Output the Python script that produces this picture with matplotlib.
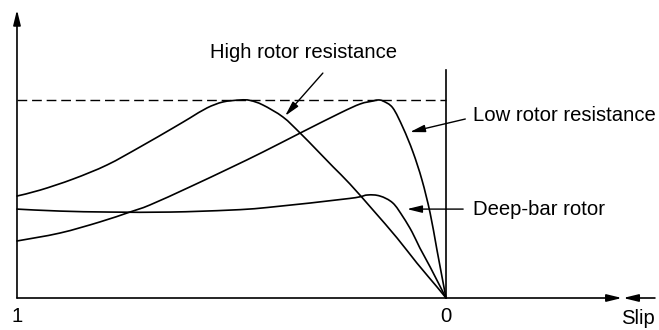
import matplotlib
matplotlib.use("Agg")
import matplotlib.pyplot as plt
import numpy as np
from matplotlib.path import Path
from matplotlib.patches import PathPatch

plt.rcParams['font.family'] = ['Liberation Sans', 'DejaVu Sans']

# Torque (fraction of maximum) vs slip
high_slip = [1.000, 0.946, 0.869, 0.790, 0.713, 0.636, 0.597, 0.557, 0.520, 0.480,
             0.457, 0.427, 0.380, 0.340, 0.301, 0.263, 0.224, 0.170, 0.114, 0.068,
             0.021, 0.0]
high_torque = [0.515, 0.545, 0.601, 0.672, 0.763, 0.859, 0.909, 0.960, 0.990, 1.000,
               0.998, 0.975, 0.914, 0.833, 0.747, 0.662, 0.576, 0.444, 0.303, 0.177,
               0.056, 0.0]

low_slip = [1.000, 0.900, 0.807, 0.737, 0.690, 0.597, 0.503, 0.427, 0.340, 0.247,
            0.200, 0.170, 0.159, 0.147, 0.124, 0.100, 0.077, 0.056, 0.037, 0.021, 0.0]
low_torque = [0.288, 0.328, 0.384, 0.434, 0.470, 0.561, 0.657, 0.737, 0.833, 0.934,
              0.980, 0.995, 1.000, 0.995, 0.960, 0.859, 0.737, 0.596, 0.429, 0.242, 0.0]

deep_slip = [1.000, 0.900, 0.783, 0.643, 0.503, 0.417, 0.224, 0.184, 0.154, 0.124,
             0.100, 0.079, 0.061, 0.037, 0.0]
deep_torque = [0.449, 0.439, 0.434, 0.434, 0.444, 0.457, 0.503, 0.520, 0.515, 0.480,
               0.409, 0.333, 0.253, 0.157, 0.0]

max_torque = 1.0
tick_labels = {1.0: "1", 0.0: "0"}


def smooth_path(xs, ys):
    """Catmull-Rom spline through the points, expressed as cubic Bezier path."""
    p = np.column_stack([xs, ys]).astype(float)
    n = len(p)
    verts = [p[0]]
    codes = [Path.MOVETO]
    for i in range(n - 1):
        p0 = p[i - 1] if i > 0 else p[i]
        p1 = p[i]
        p2 = p[i + 1]
        p3 = p[i + 2] if i + 2 < n else p[i + 1]
        c1 = p1 + (p2 - p0) / 6.0
        c2 = p2 - (p3 - p1) / 6.0
        verts += [c1, c2, p2]
        codes += [Path.CURVE4] * 3
    return Path(verts, codes)


fig = plt.figure(figsize=(6.59, 3.30), dpi=100)
ax = fig.add_axes([0, 0, 1, 1])
ax.set_xlim(1.0396, -0.4965)
ax.set_ylim(-0.1616, 1.505)
ax.axis('off')

lw = 1.2
for s, t in [(high_slip, high_torque), (low_slip, low_torque), (deep_slip, deep_torque)]:
    ax.add_patch(PathPatch(smooth_path(s, t), facecolor='none', edgecolor='black',
                           lw=lw, capstyle='round', joinstyle='round'))

# dashed max torque line
ax.plot([1.0, 0.0], [max_torque, max_torque], color='black', lw=1.0,
        dashes=(7, 3.5))

# vertical line at slip 0
ax.plot([0.0, 0.0], [0.0, 1.152], color='black', lw=lw)

# axes with arrows
arrow_head = '-|>,head_length=0.9,head_width=0.22'
ax.annotate('', xy=(1.0, 1.455), xytext=(1.0, 0.0),
            arrowprops=dict(arrowstyle=arrow_head, mutation_scale=10, lw=lw,
                            color='black', shrinkA=0, shrinkB=0))
ax.annotate('', xy=(-0.410, 0.0), xytext=(1.0, 0.0),
            arrowprops=dict(arrowstyle=arrow_head, mutation_scale=10, lw=lw,
                            color='black', shrinkA=0, shrinkB=0))
ax.annotate('', xy=(-0.413, 0.0), xytext=(-0.487, 0.0),
            arrowprops=dict(arrowstyle=arrow_head, mutation_scale=10, lw=lw,
                            color='black', shrinkA=0, shrinkB=0))

fs = 14.6
for s, lab in tick_labels.items():
    ax.text(s, -0.091, lab, ha='center', va='center', fontsize=fs)
ax.text(-0.448, -0.101, "Slip", ha='center', va='center', fontsize=fs)

ann = dict(arrowstyle=arrow_head, mutation_scale=10, lw=1.0, color='black',
           shrinkA=0, shrinkB=0)
ax.text(0.331, 1.242, "High rotor resistance", ha='center', va='center', fontsize=fs)
ax.annotate('', xy=(0.375, 0.92), xytext=(0.287, 1.136), arrowprops=ann)

ax.text(-0.063, 0.924, "Low rotor resistance", ha='left', va='center', fontsize=fs)
ax.annotate('', xy=(0.084, 0.838), xytext=(-0.045, 0.904), arrowprops=ann)

ax.text(-0.063, 0.449, "Deep-bar rotor", ha='left', va='center', fontsize=fs)
ax.annotate('', xy=(0.091, 0.449), xytext=(-0.040, 0.449), arrowprops=ann)

fig.savefig("out.png", dpi=100)
